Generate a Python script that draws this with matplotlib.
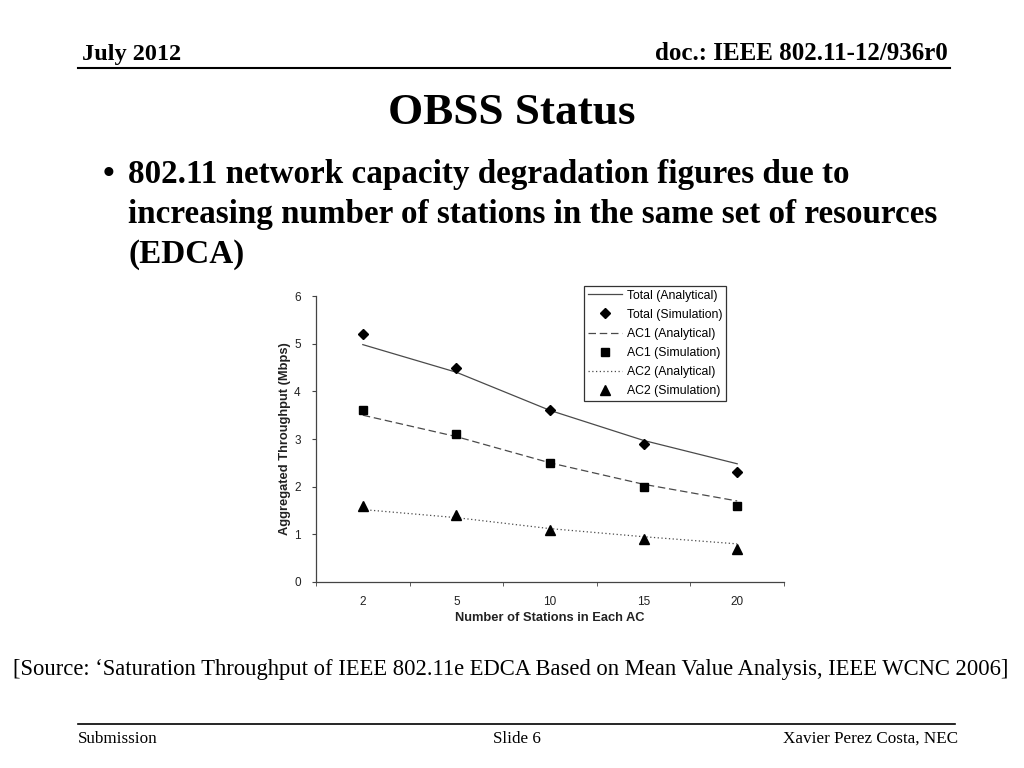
import numpy as np
import matplotlib
matplotlib.use('Agg')
import matplotlib.pyplot as plt
from matplotlib.lines import Line2D

# Chart data
stations = ['2', '5', '10', '15', '20']
total_analytical = [4.98, 4.40, 3.60, 2.97, 2.48]
total_simulation = [5.20, 4.50, 3.60, 2.90, 2.30]
ac1_analytical = [3.50, 3.05, 2.50, 2.05, 1.70]
ac1_simulation = [3.60, 3.10, 2.50, 2.00, 1.60]
ac2_analytical = [1.52, 1.35, 1.12, 0.95, 0.80]
ac2_simulation = [1.60, 1.40, 1.10, 0.90, 0.70]
y_ticks = [0, 1, 2, 3, 4, 5, 6]

serif = 'Liberation Serif'
sans = 'Liberation Sans'

fig = plt.figure(figsize=(10.24, 7.68), dpi=100)
fig.patch.set_facecolor('white')


def fx(px):
    return px / 1024


def fy(py):
    return 1 - py / 768


# Slide header
fig.text(fx(82), fy(60), 'July 2012', family=serif, fontweight='bold', fontsize=17.5, va='baseline', ha='left')
fig.text(fx(948), fy(60), 'doc.: IEEE 802.11-12/936r0', family=serif, fontweight='bold', fontsize=18,
         va='baseline', ha='right')
fig.add_artist(Line2D([fx(78), fx(950)], [fy(68), fy(68)], color='black', lw=1.5))

# Title and bullet
fig.text(0.5, fy(124), 'OBSS Status', family=serif, fontweight='bold', fontsize=32.5, ha='center', va='baseline')
fig.text(fx(103), fy(183), '\u2022', family=serif, fontweight='bold', fontsize=24, va='baseline')
bullet_lines = ['802.11 network capacity degradation figures due to',
                'increasing number of stations in the same set of resources',
                '(EDCA)']
for i, line in enumerate(bullet_lines):
    fig.text(fx(128), fy(183 + 40 * i), line, family=serif, fontweight='bold', fontsize=23.9, va='baseline')

# Source and footer
fig.text(fx(511), fy(675), '[Source: \u2018Saturation Throughput of IEEE 802.11e EDCA Based on Mean Value Analysis, IEEE WCNC 2006]',
         family=serif, fontsize=16.3, ha='center', va='baseline')
fig.add_artist(Line2D([fx(78), fx(955)], [fy(724), fy(724)], color='black', lw=1.2))
fig.text(fx(78), fy(743), 'Submission', family=serif, fontsize=12.3, va='baseline')
fig.text(fx(517), fy(743), 'Slide 6', family=serif, fontsize=12.3, va='baseline', ha='center')
fig.text(fx(958), fy(743), 'Xavier Perez Costa, NEC', family=serif, fontsize=12.3, va='baseline', ha='right')

# Chart
ax = fig.add_axes([fx(316), fy(582), fx(784) - fx(316), fy(296) - fy(582)])
x = np.arange(len(stations))
line_col = '#4a4a4a'
ax.plot(x, total_analytical, color=line_col, lw=0.9, ls='-', label='Total (Analytical)')
ax.plot(x, total_simulation, ls='none', marker='D', ms=5.5, color='black', label='Total (Simulation)')
ax.plot(x, ac1_analytical, color=line_col, lw=0.9, ls=(0, (6, 3)), label='AC1 (Analytical)')
ax.plot(x, ac1_simulation, ls='none', marker='s', ms=6, color='black', label='AC1 (Simulation)')
ax.plot(x, ac2_analytical, color=line_col, lw=0.9, ls=(0, (1, 2)), label='AC2 (Analytical)')
ax.plot(x, ac2_simulation, ls='none', marker='^', ms=6.5, color='black', label='AC2 (Simulation)')

ax.set_xlim(-0.5, len(stations) - 0.5)
ax.set_ylim(0, 6)
ax.set_yticks(y_ticks)
ax.set_xticks(x)
ax.set_xticklabels(stations)
ax.set_xticks(np.arange(len(stations) + 1) - 0.5, minor=True)
ax.tick_params(axis='x', which='major', length=0, pad=10)
ax.tick_params(axis='x', which='minor', length=3, direction='out', color='#444444')
ax.tick_params(axis='y', length=3, direction='out', color='#444444', pad=8)
for lab in ax.get_xticklabels() + ax.get_yticklabels():
    lab.set_family(sans)
    lab.set_fontsize(8.5)
    lab.set_color('#222222')
for side in ['top', 'right']:
    ax.spines[side].set_visible(False)
for side in ['left', 'bottom']:
    ax.spines[side].set_color('#444444')
    ax.spines[side].set_linewidth(0.9)

ax.set_xlabel('Number of Stations in Each AC', family=sans, fontweight='bold', fontsize=9.3, color='#222222',
              labelpad=3)
ax.set_ylabel('Aggregated Throughput (Mbps)', family=sans, fontweight='bold', fontsize=9.3, color='#222222',
              labelpad=2)

leg = fig.legend(loc='upper left', bbox_to_anchor=(fx(584), fy(286)), frameon=True, fancybox=False,
                 prop={'family': sans, 'size': 8.8}, handlelength=2.8, handletextpad=0.4,
                 labelspacing=0.58, borderpad=0.3, borderaxespad=0)
leg.get_frame().set_edgecolor('black')
leg.get_frame().set_linewidth(0.9)

fig.savefig('out.png', dpi=100, facecolor='white')
